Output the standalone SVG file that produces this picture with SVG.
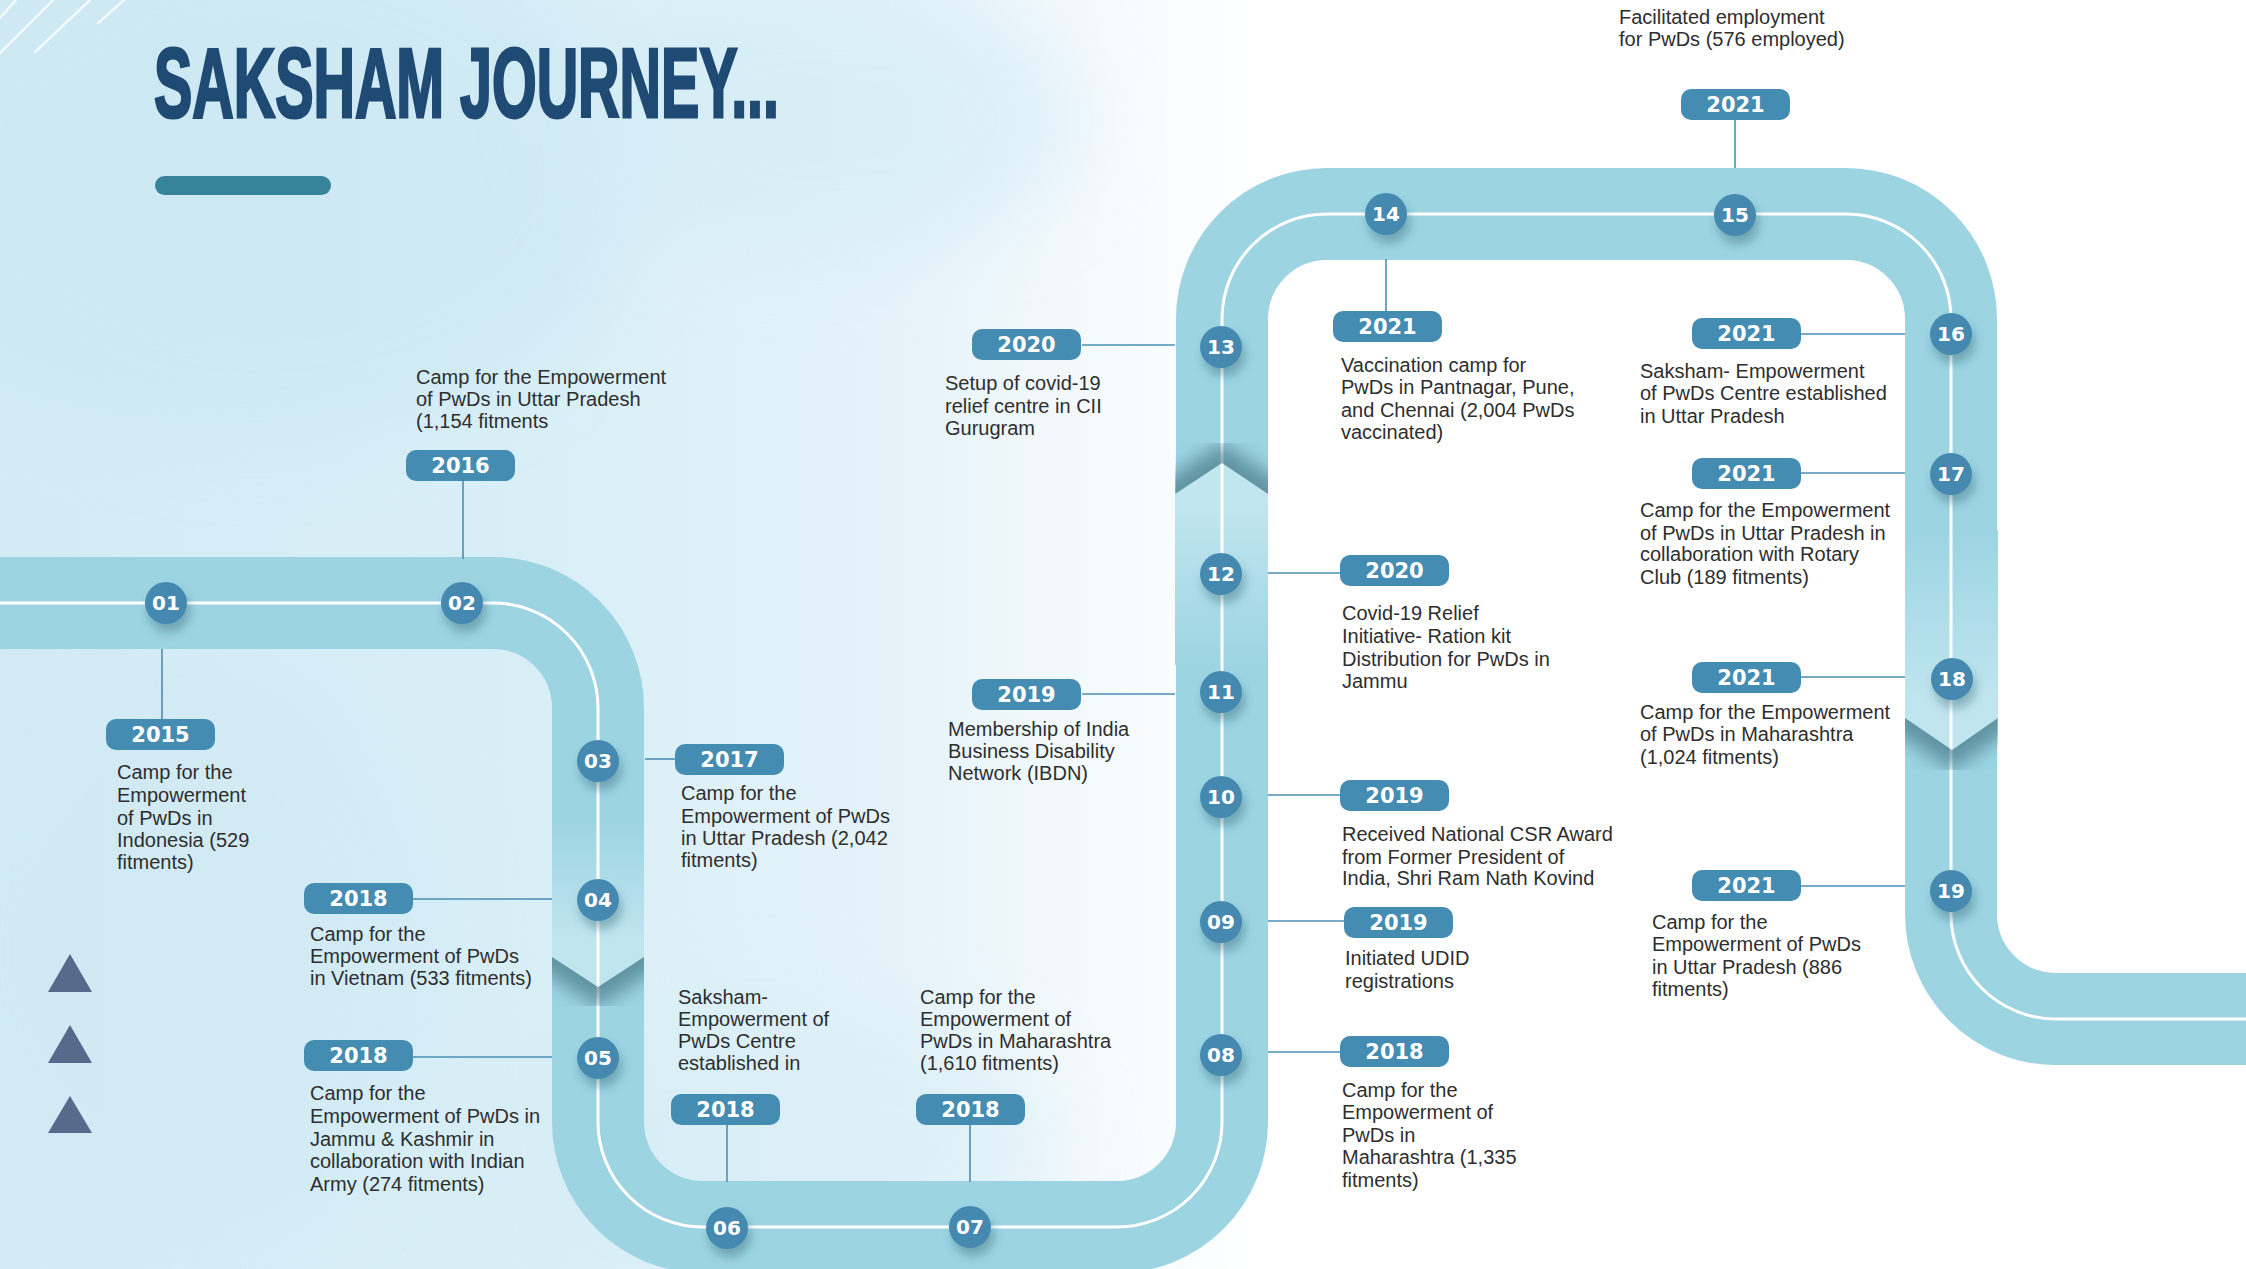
<svg xmlns="http://www.w3.org/2000/svg" width="2246" height="1269" viewBox="0 0 2246 1269">
<style>
.lbl{font-family:"Liberation Sans",Arial,sans-serif;font-size:20px;fill:#2e2e2e}
.yr{font-family:"DejaVu Sans",sans-serif;font-weight:bold;font-size:21px;fill:#ffffff;text-anchor:middle}
.num{font-family:"DejaVu Sans",sans-serif;font-weight:bold;font-size:20px;fill:#ffffff;text-anchor:middle}
.badge{fill:#458cb2}
.dot{fill:#4589b0;filter:url(#sh)}
.conn{stroke:#4a8fb5;stroke-width:1.6;fill:none}
.deco{stroke:#ffffff;stroke-width:2.5;stroke-opacity:0.75;stroke-linecap:round}
</style>
<defs>
<linearGradient id="bg" x1="0" y1="0" x2="2246" y2="0" gradientUnits="userSpaceOnUse">
<stop offset="0" stop-color="#d2ebf5"/>
<stop offset="0.25" stop-color="#d9eff7"/>
<stop offset="0.4" stop-color="#e5f3f9"/>
<stop offset="0.5" stop-color="#f6fbfd"/>
<stop offset="0.56" stop-color="#ffffff"/>
</linearGradient>
<filter id="blur40" x="-50%" y="-50%" width="200%" height="200%"><feGaussianBlur stdDeviation="40"/></filter>
<filter id="blur10" x="-50%" y="-50%" width="200%" height="200%"><feGaussianBlur stdDeviation="9"/></filter>
<filter id="sh" x="-60%" y="-60%" width="220%" height="240%"><feDropShadow dx="3" dy="8" stdDeviation="5" flood-color="#1d4d60" flood-opacity="0.35"/></filter>
<linearGradient id="lt1" x1="0" y1="820" x2="0" y2="940" gradientUnits="userSpaceOnUse"><stop offset="0" stop-color="#9cd4e2"/><stop offset="1" stop-color="#c0e5ef"/></linearGradient>
<linearGradient id="lt2" x1="0" y1="500" x2="0" y2="665" gradientUnits="userSpaceOnUse"><stop offset="0" stop-color="#c2e6f0"/><stop offset="1" stop-color="#9cd4e2"/></linearGradient>
<linearGradient id="lt3" x1="0" y1="530" x2="0" y2="700" gradientUnits="userSpaceOnUse"><stop offset="0" stop-color="#9cd4e2"/><stop offset="1" stop-color="#c0e5ef"/></linearGradient>
<clipPath id="c1"><polygon points="552,957 598,987 644,957 644,1070 552,1070"/></clipPath>
<clipPath id="c2"><polygon points="1175,494 1222,463 1268,494 1268,370 1175,370"/></clipPath>
<clipPath id="c3"><polygon points="1905,718 1952,750 1998,718 1998,830 1905,830"/></clipPath>
</defs>

<g id="background">
<rect x="0" y="0" width="2246" height="1269" fill="url(#bg)"/>
<ellipse cx="260" cy="180" rx="380" ry="260" fill="#c9e7f3" opacity="0.55" filter="url(#blur40)"/>
<ellipse cx="180" cy="950" rx="260" ry="300" fill="#cfe9f4" opacity="0.5" filter="url(#blur40)"/>
<ellipse cx="820" cy="120" rx="260" ry="140" fill="#d3ecf6" opacity="0.6" filter="url(#blur40)"/>
<ellipse cx="760" cy="1150" rx="300" ry="150" fill="#d6edf6" opacity="0.5" filter="url(#blur40)"/>
<line class="deco" x1="0" y1="53" x2="53" y2="0"/>
<line class="deco" x1="35" y1="52" x2="90" y2="0"/>
<line class="deco" x1="98" y1="23" x2="124" y2="0"/>
<line class="deco" x1="0" y1="18" x2="16" y2="0"/>
</g>

<g id="title">
<text x="154" y="117" font-family="Liberation Sans, Arial, sans-serif" font-weight="bold" font-size="98" textLength="625" lengthAdjust="spacingAndGlyphs" fill="#1f4a73" stroke="#1f4a73" stroke-width="3">SAKSHAM JOURNEY...</text>
<rect x="155" y="176" width="176" height="19" rx="9.5" fill="#37849a"/>
</g>

<g id="triangles" fill="#566a8c">
<polygon points="48,992 70,954 92,992"/>
<polygon points="48,1063 70,1025 92,1063"/>
<polygon points="48,1133 70,1096 92,1133"/>
</g>

<g id="road">
<path d="M -10 603 H 493 A 105 105 0 0 1 598 708 V 1122 A 105 105 0 0 0 703 1227 H 1117 A 105 105 0 0 0 1222 1122 V 319 A 105 105 0 0 1 1327 214 H 1846 A 105 105 0 0 1 1951 319 V 914 A 105 105 0 0 0 2056 1019 H 2256" fill="none" stroke="#9cd4e2" stroke-width="92"/>
<polygon points="552,820 644,820 644,957 598,987 552,957" fill="url(#lt1)"/>
<polygon points="1175,494 1222,463 1268,494 1268,665 1175,665" fill="url(#lt2)"/>
<polygon points="1905,530 1998,530 1998,718 1952,750 1905,718" fill="url(#lt3)"/>
<path d="M -10 603 H 493 A 105 105 0 0 1 598 708 V 1122 A 105 105 0 0 0 703 1227 H 1117 A 105 105 0 0 0 1222 1122 V 319 A 105 105 0 0 1 1327 214 H 1846 A 105 105 0 0 1 1951 319 V 914 A 105 105 0 0 0 2056 1019 H 2256" fill="none" stroke="#ffffff" stroke-width="3"/>
<g clip-path="url(#c1)"><polyline points="540,949 598,987 656,949" fill="none" stroke="#2f5f70" stroke-width="34" stroke-opacity="0.55" filter="url(#blur10)"/></g>
<g clip-path="url(#c2)"><polyline points="1163,502 1222,463 1280,502" fill="none" stroke="#2f5f70" stroke-width="34" stroke-opacity="0.55" filter="url(#blur10)"/></g>
<g clip-path="url(#c3)"><polyline points="1893,710 1952,750 2010,710" fill="none" stroke="#2f5f70" stroke-width="34" stroke-opacity="0.55" filter="url(#blur10)"/></g>
</g>

<g id="connectors" class="conn">
<line x1="162" y1="649" x2="162" y2="719"/>
<line x1="463" y1="481" x2="463" y2="559"/>
<line x1="645" y1="759" x2="675" y2="759"/>
<line x1="413" y1="899" x2="552" y2="899"/>
<line x1="413" y1="1057" x2="552" y2="1057"/>
<line x1="727" y1="1125" x2="727" y2="1182"/>
<line x1="970" y1="1125" x2="970" y2="1182"/>
<line x1="1268" y1="1052" x2="1340" y2="1052"/>
<line x1="1268" y1="921" x2="1344" y2="921"/>
<line x1="1268" y1="795" x2="1340" y2="795"/>
<line x1="1082" y1="694" x2="1175" y2="694"/>
<line x1="1268" y1="573" x2="1340" y2="573"/>
<line x1="1082" y1="345" x2="1175" y2="345"/>
<line x1="1386" y1="259" x2="1386" y2="311"/>
<line x1="1735" y1="120" x2="1735" y2="168"/>
<line x1="1801" y1="334" x2="1905" y2="334"/>
<line x1="1801" y1="473" x2="1905" y2="473"/>
<line x1="1801" y1="677" x2="1905" y2="677"/>
<line x1="1801" y1="886" x2="1905" y2="886"/>
</g>

<g id="m01">
<circle class="dot" cx="166" cy="603" r="21"/><text class="num" x="166" y="610">01</text>
<rect class="badge" x="106" y="719" width="109" height="31" rx="10"/><text class="yr" x="160.5" y="742">2015</text>
<text class="lbl"><tspan x="117" y="779">Camp for the</tspan><tspan x="117" y="802">Empowerment</tspan><tspan x="117" y="825">of PwDs in</tspan><tspan x="117" y="847">Indonesia (529</tspan><tspan x="117" y="869">fitments)</tspan></text>
</g>
<g id="m02">
<circle class="dot" cx="462" cy="603" r="21"/><text class="num" x="462" y="610">02</text>
<rect class="badge" x="406" y="450" width="109" height="31" rx="10"/><text class="yr" x="460.5" y="473">2016</text>
<text class="lbl"><tspan x="416" y="384">Camp for the Empowerment</tspan><tspan x="416" y="406">of PwDs in Uttar Pradesh</tspan><tspan x="416" y="428">(1,154 fitments</tspan></text>
</g>
<g id="m03">
<circle class="dot" cx="598" cy="761" r="21"/><text class="num" x="598" y="768">03</text>
<rect class="badge" x="675" y="744" width="109" height="31" rx="10"/><text class="yr" x="729.5" y="767">2017</text>
<text class="lbl"><tspan x="681" y="800">Camp for the</tspan><tspan x="681" y="823">Empowerment of PwDs</tspan><tspan x="681" y="845">in Uttar Pradesh (2,042</tspan><tspan x="681" y="867">fitments)</tspan></text>
</g>
<g id="m04">
<circle class="dot" cx="598" cy="900" r="21"/><text class="num" x="598" y="907">04</text>
<rect class="badge" x="304" y="883" width="109" height="31" rx="10"/><text class="yr" x="358.5" y="906">2018</text>
<text class="lbl"><tspan x="310" y="941">Camp for the</tspan><tspan x="310" y="963">Empowerment of PwDs</tspan><tspan x="310" y="985">in Vietnam (533 fitments)</tspan></text>
</g>
<g id="m05">
<circle class="dot" cx="598" cy="1058" r="21"/><text class="num" x="598" y="1065">05</text>
<rect class="badge" x="304" y="1040" width="109" height="31" rx="10"/><text class="yr" x="358.5" y="1063">2018</text>
<text class="lbl"><tspan x="310" y="1100">Camp for the</tspan><tspan x="310" y="1123">Empowerment of PwDs in</tspan><tspan x="310" y="1146">Jammu &amp; Kashmir in</tspan><tspan x="310" y="1168">collaboration with Indian</tspan><tspan x="310" y="1191">Army (274 fitments)</tspan></text>
</g>
<g id="m06">
<circle class="dot" cx="727" cy="1228" r="21"/><text class="num" x="727" y="1235">06</text>
<rect class="badge" x="671" y="1094" width="109" height="31" rx="10"/><text class="yr" x="725.5" y="1117">2018</text>
<text class="lbl"><tspan x="678" y="1004">Saksham-</tspan><tspan x="678" y="1026">Empowerment of</tspan><tspan x="678" y="1048">PwDs Centre</tspan><tspan x="678" y="1070">established in</tspan></text>
</g>
<g id="m07">
<circle class="dot" cx="970" cy="1227" r="21"/><text class="num" x="970" y="1234">07</text>
<rect class="badge" x="916" y="1094" width="109" height="31" rx="10"/><text class="yr" x="970.5" y="1117">2018</text>
<text class="lbl"><tspan x="920" y="1004">Camp for the</tspan><tspan x="920" y="1026">Empowerment of</tspan><tspan x="920" y="1048">PwDs in Maharashtra</tspan><tspan x="920" y="1070">(1,610 fitments)</tspan></text>
</g>
<g id="m08">
<circle class="dot" cx="1221" cy="1055" r="21"/><text class="num" x="1221" y="1062">08</text>
<rect class="badge" x="1340" y="1036" width="109" height="31" rx="10"/><text class="yr" x="1394.5" y="1059">2018</text>
<text class="lbl"><tspan x="1342" y="1097">Camp for the</tspan><tspan x="1342" y="1119">Empowerment of</tspan><tspan x="1342" y="1142">PwDs in</tspan><tspan x="1342" y="1164">Maharashtra (1,335</tspan><tspan x="1342" y="1187">fitments)</tspan></text>
</g>
<g id="m09">
<circle class="dot" cx="1221" cy="922" r="21"/><text class="num" x="1221" y="929">09</text>
<rect class="badge" x="1344" y="907" width="109" height="31" rx="10"/><text class="yr" x="1398.5" y="930">2019</text>
<text class="lbl"><tspan x="1345" y="965">Initiated UDID</tspan><tspan x="1345" y="988">registrations</tspan></text>
</g>
<g id="m10">
<circle class="dot" cx="1221" cy="797" r="21"/><text class="num" x="1221" y="804">10</text>
<rect class="badge" x="1340" y="780" width="109" height="31" rx="10"/><text class="yr" x="1394.5" y="803">2019</text>
<text class="lbl"><tspan x="1342" y="841">Received National CSR Award</tspan><tspan x="1342" y="864">from Former President of</tspan><tspan x="1342" y="885">India, Shri Ram Nath Kovind</tspan></text>
</g>
<g id="m11">
<circle class="dot" cx="1221" cy="692" r="21"/><text class="num" x="1221" y="699">11</text>
<rect class="badge" x="972" y="679" width="109" height="31" rx="10"/><text class="yr" x="1026.5" y="702">2019</text>
<text class="lbl"><tspan x="948" y="736">Membership of India</tspan><tspan x="948" y="758">Business Disability</tspan><tspan x="948" y="780">Network (IBDN)</tspan></text>
</g>
<g id="m12">
<circle class="dot" cx="1221" cy="574" r="21"/><text class="num" x="1221" y="581">12</text>
<rect class="badge" x="1340" y="555" width="109" height="31" rx="10"/><text class="yr" x="1394.5" y="578">2020</text>
<text class="lbl"><tspan x="1342" y="620">Covid-19 Relief</tspan><tspan x="1342" y="643">Initiative- Ration kit</tspan><tspan x="1342" y="666">Distribution for PwDs in</tspan><tspan x="1342" y="688">Jammu</tspan></text>
</g>
<g id="m13">
<circle class="dot" cx="1221" cy="347" r="21"/><text class="num" x="1221" y="354">13</text>
<rect class="badge" x="972" y="329" width="109" height="31" rx="10"/><text class="yr" x="1026.5" y="352">2020</text>
<text class="lbl"><tspan x="945" y="390">Setup of covid-19</tspan><tspan x="945" y="413">relief centre in CII</tspan><tspan x="945" y="435">Gurugram</tspan></text>
</g>
<g id="m14">
<circle class="dot" cx="1386" cy="214" r="21"/><text class="num" x="1386" y="221">14</text>
<rect class="badge" x="1333" y="311" width="109" height="31" rx="10"/><text class="yr" x="1387.5" y="334">2021</text>
<text class="lbl"><tspan x="1341" y="372">Vaccination camp for</tspan><tspan x="1341" y="394">PwDs in Pantnagar, Pune,</tspan><tspan x="1341" y="417">and Chennai (2,004 PwDs</tspan><tspan x="1341" y="439">vaccinated)</tspan></text>
</g>
<g id="m15">
<circle class="dot" cx="1735" cy="215" r="21"/><text class="num" x="1735" y="222">15</text>
<rect class="badge" x="1681" y="89" width="109" height="31" rx="10"/><text class="yr" x="1735.5" y="112">2021</text>
<text class="lbl"><tspan x="1619" y="24">Facilitated employment</tspan><tspan x="1619" y="46">for PwDs (576 employed)</tspan></text>
</g>
<g id="m16">
<circle class="dot" cx="1951" cy="334" r="21"/><text class="num" x="1951" y="341">16</text>
<rect class="badge" x="1692" y="318" width="109" height="31" rx="10"/><text class="yr" x="1746.5" y="341">2021</text>
<text class="lbl"><tspan x="1640" y="378">Saksham- Empowerment</tspan><tspan x="1640" y="400">of PwDs Centre established</tspan><tspan x="1640" y="423">in Uttar Pradesh</tspan></text>
</g>
<g id="m17">
<circle class="dot" cx="1951" cy="474" r="21"/><text class="num" x="1951" y="481">17</text>
<rect class="badge" x="1692" y="458" width="109" height="31" rx="10"/><text class="yr" x="1746.5" y="481">2021</text>
<text class="lbl"><tspan x="1640" y="517">Camp for the Empowerment</tspan><tspan x="1640" y="540">of PwDs in Uttar Pradesh in</tspan><tspan x="1640" y="561">collaboration with Rotary</tspan><tspan x="1640" y="584">Club (189 fitments)</tspan></text>
</g>
<g id="m18">
<circle class="dot" cx="1952" cy="679" r="21"/><text class="num" x="1952" y="686">18</text>
<rect class="badge" x="1692" y="662" width="109" height="31" rx="10"/><text class="yr" x="1746.5" y="685">2021</text>
<text class="lbl"><tspan x="1640" y="719">Camp for the Empowerment</tspan><tspan x="1640" y="741">of PwDs in Maharashtra</tspan><tspan x="1640" y="764">(1,024 fitments)</tspan></text>
</g>
<g id="m19">
<circle class="dot" cx="1951" cy="891" r="21"/><text class="num" x="1951" y="898">19</text>
<rect class="badge" x="1692" y="870" width="109" height="31" rx="10"/><text class="yr" x="1746.5" y="893">2021</text>
<text class="lbl"><tspan x="1652" y="929">Camp for the</tspan><tspan x="1652" y="951">Empowerment of PwDs</tspan><tspan x="1652" y="974">in Uttar Pradesh (886</tspan><tspan x="1652" y="996">fitments)</tspan></text>
</g>
</svg>
